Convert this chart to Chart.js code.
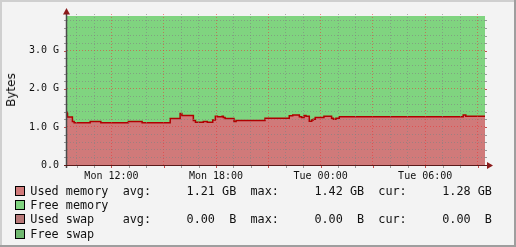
<!DOCTYPE html>
<html><head><meta charset="utf-8">
<script src="https://cdn.jsdelivr.net/npm/chart.js@4/dist/chart.umd.min.js"></script>
<style>
html,body{margin:0;padding:0;background:#f3f3f3;}
#wrap{position:relative;width:516px;height:247px;overflow:hidden;background:#f3f3f3;}
canvas{position:absolute;left:0;top:0;}
.bt,.bl,.bb,.br{position:absolute;}
.bt{left:0;top:0;width:516px;height:2px;background:#cfcfcf;}
.bl{left:0;top:0;width:2px;height:247px;background:#cfcfcf;}
.bb{left:0;top:245px;width:516px;height:2px;background:#9e9e9e;}
.br{left:514px;top:0;width:2px;height:247px;background:#9e9e9e;}
.row{position:absolute;left:0;width:516px;height:14px;font-family:"DejaVu Sans Mono",monospace;font-size:11.8px;line-height:14px;white-space:pre;color:#111;}
.sw{position:absolute;left:15px;top:2px;width:10px;height:10px;box-sizing:border-box;border:1px solid #000;}
.tx{position:absolute;left:30.3px;top:0;}
#ytitle{position:absolute;left:11px;top:90px;font-family:"DejaVu Sans","DejaVu Sans Mono",sans-serif;font-size:12px;line-height:14px;color:#111;white-space:nowrap;transform:translate(-50%,-50%) rotate(-90deg);}
</style>
</head><body>
<div id="wrap">
<canvas id="c" width="516" height="247"></canvas>
<div id="ytitle"></div>
<div id="legend"></div>
<div class="bt"></div><div class="bl"></div><div class="bb"></div><div class="br"></div>
</div>
<script>
// ---- data (hours since Mon 00:00, values in GiB) ----
const times = [9.45, 9.48, 9.76, 9.86, 10.78, 11.39, 12.97, 13.76, 15.37, 15.94, 16.04, 16.70, 16.82, 17.27, 17.50, 17.81, 17.96, 18.08, 18.35, 18.42, 18.52, 19.03, 19.15, 20.81, 22.20, 22.40, 22.78, 22.91, 23.05, 23.16, 23.35, 23.49, 23.58, 23.69, 24.19, 24.63, 24.73, 24.88, 25.07, 32.18, 32.33, 33.06, 33.43];
const usedMemory = [1.41, 1.35, 1.26, 1.14, 1.11, 1.14, 1.11, 1.14, 1.11, 1.22, 1.35, 1.30, 1.17, 1.12, 1.14, 1.12, 1.18, 1.28, 1.27, 1.28, 1.25, 1.22, 1.14, 1.17, 1.23, 1.29, 1.31, 1.27, 1.25, 1.30, 1.28, 1.15, 1.18, 1.20, 1.25, 1.28, 1.23, 1.20, 1.23, 1.27, 1.31, 1.28, 1.28];
const freeMemory = [2.50, 2.56, 2.65, 2.77, 2.80, 2.77, 2.80, 2.77, 2.80, 2.69, 2.56, 2.61, 2.74, 2.79, 2.77, 2.79, 2.73, 2.63, 2.64, 2.63, 2.66, 2.69, 2.77, 2.74, 2.68, 2.62, 2.60, 2.64, 2.66, 2.61, 2.63, 2.76, 2.73, 2.71, 2.66, 2.63, 2.68, 2.71, 2.68, 2.64, 2.60, 2.63, 2.63];
const usedSwap = [0, 0];
const freeSwap = [0, 0];
const swapTimes = [9.45, 33.43];
const xTickLabels = {12: 'Mon 12:00', 18: 'Mon 18:00', 24: 'Tue 00:00', 30: 'Tue 06:00'};
const yTickLabels = {0: '0.0', 1: '1.0 G', 2: '2.0 G', 3: '3.0 G'};
const yAxisTitle = 'Bytes';
const legendRows = [
  {name: 'Used memory', color: '#d07a7a', stats: ['1.21 GB', '1.42 GB', '1.28 GB']},
  {name: 'Free memory', color: '#80d480', stats: null},
  {name: 'Used swap',   color: '#b87878', stats: ['0.00  B', '0.00  B', '0.00  B']},
  {name: 'Free swap',   color: '#70b870', stats: null}
];
const xMin = 9.45, xMax = 33.43, yMax = 3.965;

document.getElementById('ytitle').textContent = yAxisTitle;

// ---- legend ----
const pad = (s, n) => s + ' '.repeat(Math.max(0, n - s.length));
const legend = document.getElementById('legend');
const rowTops = [184, 198.2, 212.4, 226.6];
legendRows.forEach((r, i) => {
  const d = document.createElement('div');
  d.className = 'row';
  d.style.top = rowTops[i] + 'px';
  let t = pad(r.name, 13);
  if (r.stats) {
    t += 'avg:     ' + r.stats[0] + '  max:     ' + r.stats[1] + '  cur:     ' + r.stats[2];
  }
  d.innerHTML = '<div class="sw" style="background:' + r.color + '"></div><div class="tx"></div>';
  d.querySelector('.tx').textContent = t;
  legend.appendChild(d);
});

const near = (v, k) => Math.abs(v - Math.round(v)) < 1e-6 && Math.round(v) % k === 0;
const minorCol = 'rgba(130,130,130,0.6)';
const majorCol = 'rgba(235,50,50,0.55)';

const axesPlugin = {
  id: 'rrdAxes',
  afterDraw(chart) {
    const ctx = chart.ctx, a = chart.chartArea;
    const xs = chart.scales.x, ys = chart.scales.y;
    ctx.save();
    xs.ticks.forEach(t => {
      const px = Math.round(xs.getPixelForValue(t.value)) + 0.5;
      ctx.strokeStyle = near(t.value, 3) ? '#c05050' : '#999';
      ctx.lineWidth = 1;
      ctx.beginPath(); ctx.moveTo(px, a.bottom); ctx.lineTo(px, a.bottom + 3); ctx.stroke();
    });
    ys.ticks.forEach(t => {
      const py = Math.round(ys.getPixelForValue(t.value)) + 0.5;
      ctx.strokeStyle = near(t.value, 1) ? '#c05050' : '#999';
      ctx.beginPath(); ctx.moveTo(a.left - 3, py); ctx.lineTo(a.left, py); ctx.stroke();
      ctx.beginPath(); ctx.moveTo(a.right, py); ctx.lineTo(a.right + 2, py); ctx.stroke();
    });
    ctx.strokeStyle = '#4a4a4a';
    ctx.lineWidth = 1.5;
    ctx.beginPath(); ctx.moveTo(a.left - 0.5, a.bottom + 3); ctx.lineTo(a.left - 0.5, a.top - 1); ctx.stroke();
    ctx.strokeStyle = '#5a1a1a';
    ctx.lineWidth = 1.2;
    ctx.beginPath(); ctx.moveTo(a.left - 3, a.bottom + 0.5); ctx.lineTo(a.right + 3, a.bottom + 0.5); ctx.stroke();
    ctx.fillStyle = '#8b1a1a';
    ctx.beginPath(); ctx.moveTo(a.left - 0.5, a.top - 6); ctx.lineTo(a.left - 4, a.top + 0.5); ctx.lineTo(a.left + 3, a.top + 0.5); ctx.closePath(); ctx.fill();
    ctx.beginPath(); ctx.moveTo(a.right + 8, a.bottom + 0.5); ctx.lineTo(a.right + 2, a.bottom - 3); ctx.lineTo(a.right + 2, a.bottom + 4); ctx.closePath(); ctx.fill();
    ctx.restore();
  }
};

const tickFont = {family: 'DejaVu Sans Mono', size: 10};
new Chart(document.getElementById('c'), {
  type: 'line',
  data: {
    datasets: [
      {label: 'Used memory', data: times.map((t, i) => ({x: t, y: usedMemory[i]})), stack: 'mem',
       stepped: 'after', fill: 'origin', backgroundColor: '#d07a7a', borderColor: '#b00000', borderWidth: 1.5, pointRadius: 0},
      {label: 'Free memory', data: times.map((t, i) => ({x: t, y: freeMemory[i]})), stack: 'mem',
       stepped: 'after', fill: '-1', backgroundColor: '#80d480', borderColor: 'rgba(0,0,0,0)', borderWidth: 0, pointRadius: 0},
      {label: 'Used swap', data: swapTimes.map((t, i) => ({x: t, y: usedSwap[i]})), stack: 'swap',
       stepped: 'after', fill: 'origin', backgroundColor: '#b87878', borderWidth: 0, pointRadius: 0},
      {label: 'Free swap', data: swapTimes.map((t, i) => ({x: t, y: freeSwap[i]})), stack: 'swap',
       stepped: 'after', fill: '-1', backgroundColor: '#70b870', borderWidth: 0, pointRadius: 0}
    ]
  },
  options: {
    responsive: false, animation: false, devicePixelRatio: 1,
    layout: {padding: {left: 0, top: 13, right: 31, bottom: 62}},
    plugins: {legend: {display: false}, tooltip: {enabled: false}},
    scales: {
      x: {
        type: 'linear', min: xMin, max: xMax,
        afterFit(s) { s.height = 20; },
        ticks: {stepSize: 1, includeBounds: false, autoSkip: false, maxRotation: 0, minRotation: 0, padding: 5,
                color: '#111', font: tickFont,
                callback: v => xTickLabels[Math.round(v)] && near(v, 6) ? xTickLabels[Math.round(v)] : ''},
        grid: {z: 1, color: c => near(c.tick.value, 3) ? majorCol : minorCol, lineWidth: 1, drawTicks: false},
        border: {display: false, dash: [1, 2]}
      },
      y: {
        type: 'linear', stacked: true, min: 0, max: yMax,
        afterFit(s) { s.width = 67; },
        ticks: {stepSize: 0.2, includeBounds: false, autoSkip: false, padding: 8, color: '#111', font: tickFont,
                callback: v => near(v, 1) ? yTickLabels[Math.round(v)] : ''},
        grid: {z: 1, color: c => near(c.tick.value, 1) ? majorCol : minorCol, lineWidth: 1, drawTicks: false},
        border: {display: false, dash: [1, 2]}
      }
    }
  },
  plugins: [axesPlugin]
});
</script>
</body></html>
